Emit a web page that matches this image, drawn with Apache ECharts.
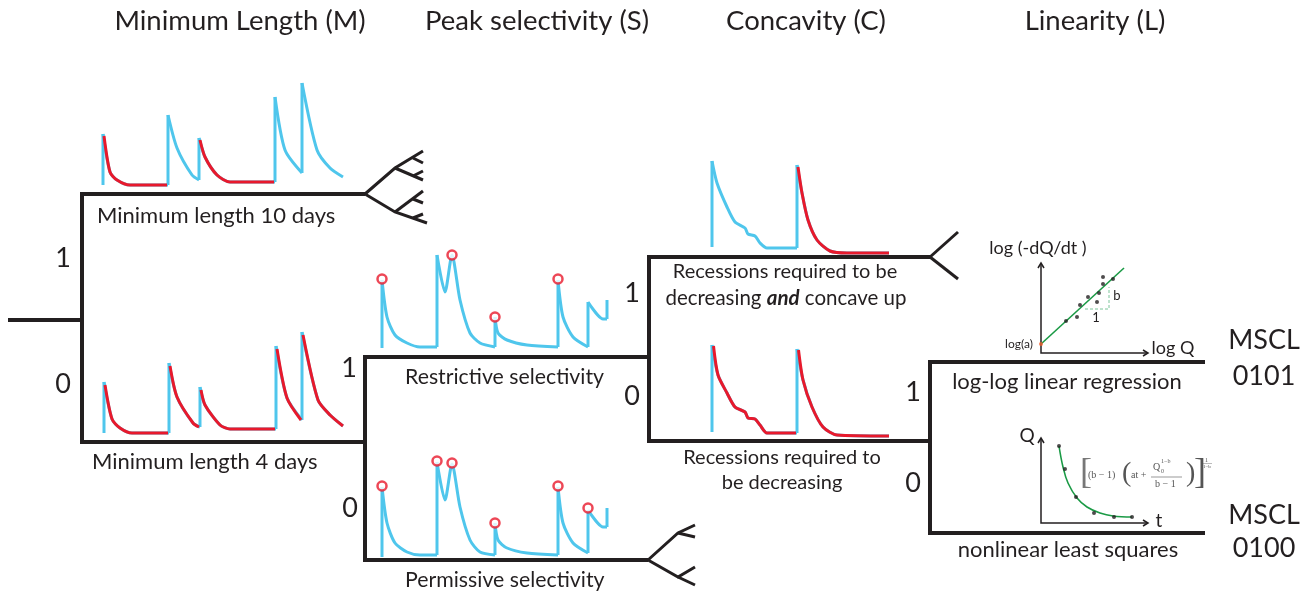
<!DOCTYPE html>
<html><head><meta charset="utf-8">
<script src="https://cdn.jsdelivr.net/npm/echarts@6/dist/echarts.min.js"></script>
<style>html,body{margin:0;padding:0;background:#fff}#c{width:1309px;height:594px}</style>
</head><body><div id="c"></div>
<script>
// ---- Data (diagram coordinates in the chart's own value space) ----
const treeBranches = [
  [[8,320],[82,320]],
  [[365,194],[82,194],[82,442],[365,442]],
  [[648,357],[365,357],[365,560],[648,560]],
  [[930,257],[649,257],[649,441],[930,441]],
  [[1205,362],[930,362],[930,533],[1205,533]]
];
const forkLines = [
  [[365,194],[395,168],[423,151]], [[395,168],[423,180]], [[413,158],[423,163]], [[413,176],[423,171]],
  [[365,194],[395,212],[427,223]], [[395,212],[423,191]], [[413,199],[423,203]], [[413,218],[423,214]],
  [[648,560],[678,533],[695,525]], [[678,533],[695,537]],
  [[648,560],[678,577],[695,567]], [[678,577],[695,585]],
  [[930,257],[958,232]], [[930,257],[958,279]]
];
const mTopFlow = [[103,185],[103,134],[110,172],[117,180],[130,185],[168,185],[168,115],[177,148],[192,175],[199,180],[199,138],[205,157],[217,175],[230,182],[275,182],[275,97],[285,150],[302,173],[302,83],[317,150],[330,168],[343,177]];
const mTopRec = [
  [[104,136],[110,172],[117,180],[130,185],[167,185]],
  [[200,140],[205,157],[217,175],[230,182],[274,182]]
];
const mBotFlow = [[104,433],[104,382],[112,419],[120,428],[132,433],[169,433],[169,363],[177,397],[193,423],[200,427],[200,387],[205,405],[220,425],[230,429],[276,429],[276,346],[287,398],[302,420],[302,332],[318,400],[330,415],[343,426]];
const mBotRec = [
  [[105,385],[112,419],[120,428],[132,433],[168,433]],
  [[170,366],[177,397],[193,423],[199,427]],
  [[201,390],[205,405],[220,425],[230,429],[275,429]],
  [[277,349],[287,398],[301,420]],
  [[303,335],[318,400],[330,415],[343,426]]
];
const sTopFlow = [[382,348],[382,280],[387,317],[395,335],[407,343],[420,347],[437,347],[437,255],[445,292],[452,255],[460,300],[470,333],[480,343],[495,347],[495,317],[498,333],[507,340],[527,345],[558,347],[558,280],[563,317],[573,337],[588,347],[588,302],[603,319],[607,319],[607,300]];
const sTopPeaks = [[382,279],[452,255],[495,317],[558,279]];
const sBotFlow = [[382,557],[382,487],[387,523],[395,543],[407,552],[420,555],[437,555],[437,462],[445,500],[452,464],[460,507],[470,540],[480,552],[495,555],[495,523],[498,540],[507,548],[527,553],[558,555],[558,487],[563,523],[573,543],[588,553],[588,510],[603,527],[607,527],[607,508]];
const sBotPeaks = [[382,486],[437,461],[452,463],[495,523],[558,486],[588,508]];
const cTopFlow = [[712,247],[712,161],[717,183],[727,207],[735,222],[745,228],[748,234],[755,236],[760,243],[767,248],[797,248],[797,165],[802,193],[808,220],[817,240],[830,251],[847,253],[889,253]];
const cTopRec = [[[798,167],[802,193],[808,220],[817,240],[830,251],[847,253],[889,253]]];
const cBotFlow = [[712,432],[712,345],[718,375],[727,393],[735,407],[745,412],[748,418],[755,419],[760,425],[767,433],[797,433],[797,349],[803,380],[812,407],[823,427],[837,435],[889,436]];
const cBotRec = [
  [[713.5,346],[718,375],[727,393],[735,407],[745,412],[748,418],[755,419],[760,425],[767,433],[796,433]],
  [[798.5,350],[803,380],[812,407],[823,427],[837,435],[889,436]]
];
const llAxes = [[[1041,263],[1041,353],[1148,353]], [[1038,268],[1041,263],[1044,268]], [[1143,350],[1148,353],[1143,356]]];
const llFit = [[1041,344],[1124,268]];
const llPoints = [[1066,321],[1077,317],[1080,305],[1088,297],[1097,302],[1099,293],[1103,277],[1103,284],[1113,279]];
const llSlope = [[1085,309],[1109,309],[1109,287]];
const llIntercept = [[1041,344]];
const nlAxes = [[[1041,438],[1041,523],[1148,523]], [[1038,443],[1041,438],[1044,443]], [[1143,520],[1148,523],[1143,526]]];
const nlFit = [[1059,446],[1063,467],[1068,483],[1077,498],[1087,507],[1100,513],[1113,516],[1132,517]];
const nlPoints = [[1059,446],[1065,469],[1076,497],[1094,513],[1114,517],[1132,517]];

const titles = ['Minimum Length (M)','Peak selectivity (S)','Concavity (C)','Linearity (L)'];
const branchDigits = ['1','0','1','0','1','0','1','0'];
const codes = ['MSCL','0101','MSCL','0100'];

// ---- Styles ----
const INK = '#231f20', BLUE = '#4fc6ec', RED = '#e8192c', GREEN = '#1a9a45';
const FONT = 'Lato, "Open Sans", sans-serif';
const SMOOTH = 0.25;

const series = [];
function line(pts, color, width, extra) {
  series.push(Object.assign({
    type: 'line', data: pts, showSymbol: false, symbol: 'none', silent: true, animation: false,
    lineStyle: { color: color, width: width, cap: 'butt', join: 'miter' }
  }, extra || {}));
}
// split a hydrograph into straight rising limbs and smooth recession limbs
function drawFlow(pts, color, z) {
  let seg = [pts[0]];
  for (let i = 1; i < pts.length; i++) {
    const p = pts[i], q = pts[i - 1];
    if (p[0] === q[0]) {
      if (seg.length > 1) line(seg, color, 3, { z: z, smooth: SMOOTH, lineStyle: { color: color, width: 3, join: 'round' } });
      line([q, p], color, 3, { z: z });
      seg = [p];
    } else seg.push(p);
  }
  if (seg.length > 1) line(seg, color, 3, { z: z, smooth: SMOOTH, lineStyle: { color: color, width: 3, join: 'round' } });
}
treeBranches.forEach(p => line(p, INK, 4, { z: 3 }));
forkLines.forEach(p => line(p, INK, 3, { z: 3 }));
[mTopFlow, mBotFlow, sTopFlow, sBotFlow, cTopFlow, cBotFlow].forEach(p => drawFlow(p, BLUE, 4));
[].concat(mTopRec, mBotRec, cTopRec, cBotRec).forEach(p => line(p, RED, 3, { z: 5, smooth: SMOOTH, lineStyle: { color: RED, width: 3, join: 'round' } }));
[sTopPeaks, sBotPeaks].forEach(p => series.push({
  type: 'scatter', data: p, symbol: 'circle', symbolSize: 9, silent: true, animation: false, z: 6,
  itemStyle: { color: '#fff', borderColor: RED, borderWidth: 2.5 }
}));
[].concat(llAxes, nlAxes).forEach(p => line(p, INK, 1.5, { z: 4 }));
line(llFit, GREEN, 1.6, { z: 5 });
line(llSlope, '#7cc69b', 1, { z: 5, lineStyle: { color: '#7cc69b', width: 1, type: [3, 2] } });
line(nlFit, GREEN, 1.6, { z: 5, smooth: 0.4 });
[llPoints, nlPoints].forEach(p => series.push({
  type: 'scatter', data: p, symbol: 'circle', symbolSize: 4, silent: true, animation: false, z: 6,
  itemStyle: { color: INK }
}));
series.push({ type: 'scatter', data: llIntercept, symbolSize: 4, silent: true, animation: false, z: 6, itemStyle: { color: '#f15a29' } });

function txt(text, x, y, size, align, extra) {
  return Object.assign({ type: 'text', x: x, y: y, z: 10, silent: true,
    style: { text: text, fontSize: size, fontFamily: FONT, fill: INK, align: align || 'center', verticalAlign: 'middle' } }, extra || {});
}
const titleX = [240, 537, 806, 1095];
const digitPos = [[63,258],[63,384],[349,368],[350,508],[632,293],[632,396],[913,392],[913,483]];
const codePos = [[1264,340],[1264,376],[1264,515],[1264,548]];
const graphics = [];
titles.forEach((t, i) => graphics.push(txt(t, titleX[i], 21, 27.5)));
branchDigits.forEach((t, i) => graphics.push(txt(t, digitPos[i][0], digitPos[i][1], 27)));
codes.forEach((t, i) => graphics.push(txt(t, codePos[i][0], codePos[i][1], 27)));
graphics.push(txt('Minimum length 10 days', 97, 216, 22, 'left'));
graphics.push(txt('Minimum length 4 days', 92, 462, 22, 'left'));
graphics.push(txt('Restrictive selectivity', 405, 377, 21.3, 'left'));
graphics.push(txt('Permissive selectivity', 405, 580, 21.3, 'left'));
graphics.push(txt('Recessions required to be', 785, 272, 20));
graphics.push({ type: 'text', x: 786, y: 298, z: 10, silent: true, style: {
  text: '{n|decreasing }{b|and}{n| concave up}', align: 'center', verticalAlign: 'middle',
  rich: { n: { fontSize: 20.5, fontFamily: FONT, fill: INK }, b: { fontSize: 20.5, fontFamily: FONT, fill: INK, fontWeight: 'bold', fontStyle: 'italic' } } } });
graphics.push(txt('Recessions required to', 782, 458, 20));
graphics.push(txt('be decreasing', 782, 483, 20));
graphics.push(txt('log-log linear regression', 1067, 382, 22));
graphics.push(txt('nonlinear least squares', 1068, 550, 22));
graphics.push(txt('log (-dQ/dt )', 1038, 248, 18));
graphics.push(txt('log Q', 1173, 348, 18));
graphics.push(txt('log(a)', 1019, 344, 12));
graphics.push(txt('b', 1117, 296, 13));
graphics.push(txt('1', 1096, 318, 13));
graphics.push(txt('Q', 1027, 436, 19));
graphics.push(txt('t', 1159, 521, 19));
// formula
const SERIF = '"Liberation Serif", "DejaVu Serif", serif', FG = '#555';
function ftxt(t, x, y, s, extra) { return txt(t, x, y, s, 'left', Object.assign({ style: { text: t, fontSize: s, fontFamily: SERIF, fill: FG, align: 'left', verticalAlign: 'middle' } }, extra || {})); }
graphics.push(ftxt('[', 1080, 474, 36, { style: { text: '[', fontSize: 36, fontFamily: SERIF, fill: '#777', align: 'left', verticalAlign: 'middle', fontWeight: 'lighter' } }));
graphics.push(ftxt('(b − 1)', 1088, 475, 10));
graphics.push(ftxt('(', 1122, 474, 28));
graphics.push(ftxt('at +', 1131, 475, 10));
graphics.push(ftxt('Q', 1153, 467, 10));
graphics.push(ftxt('0', 1161, 471, 6));
graphics.push(ftxt('1−b', 1161, 461, 6));
graphics.push(ftxt('b − 1', 1155, 484, 10));
graphics.push({ type: 'line', z: 10, silent: true, shape: { x1: 1151, y1: 477, x2: 1182, y2: 477 }, style: { stroke: FG, lineWidth: 0.6 } });
graphics.push(ftxt(')', 1186, 474, 28));
graphics.push(ftxt(']', 1194, 474, 36));
graphics.push(ftxt('1', 1205, 460, 6));
graphics.push({ type: 'line', z: 10, silent: true, shape: { x1: 1203, y1: 463.5, x2: 1212, y2: 463.5 }, style: { stroke: FG, lineWidth: 0.4 } });
graphics.push(ftxt('1−b', 1203, 467, 5));

const chart = echarts.init(document.getElementById('c'), null, { renderer: 'canvas' });
chart.setOption({
  animation: false,
  backgroundColor: '#fff',
  grid: { left: 0, top: 0, right: 0, bottom: 0 },
  xAxis: { type: 'value', min: 0, max: 1309, show: false },
  yAxis: { type: 'value', min: 0, max: 594, inverse: true, show: false },
  series: series,
  graphic: graphics
});
</script></body></html>
